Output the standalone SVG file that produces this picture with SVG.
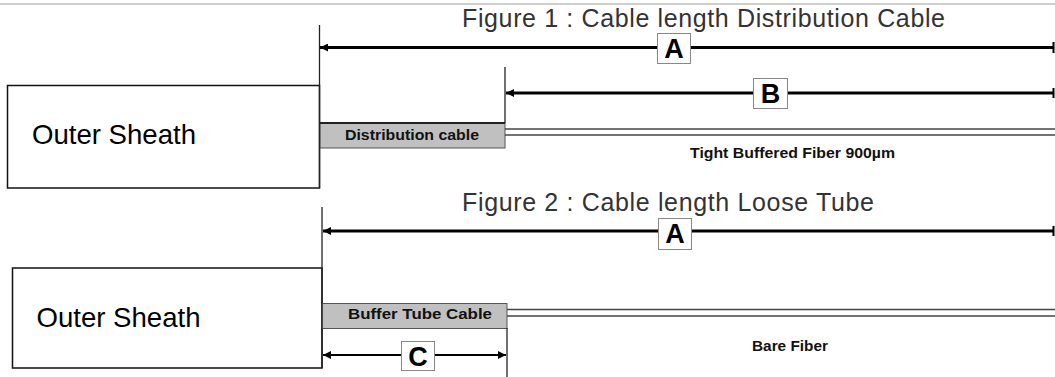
<svg xmlns="http://www.w3.org/2000/svg" width="1055" height="377" viewBox="0 0 1055 377">
<style>
.title{font-family:"Liberation Sans",Arial,sans-serif;font-size:25px;fill:#333}
.sheath{fill:#fff;stroke:#111;stroke-width:1.5}
.sheathtxt{font-family:"Liberation Sans",Arial,sans-serif;font-size:27.5px;fill:#000}
.cable{fill:#c0c0c0;stroke:#555;stroke-width:1}
.lbl{font-family:"Liberation Sans",Arial,sans-serif;font-size:15.5px;font-weight:bold;fill:#111}
.dim{stroke:#000;stroke-width:3;fill:none}
.dimc{stroke:#000;stroke-width:2;fill:none}
.ext{stroke:#222;stroke-width:1.3;fill:none}
.fib{stroke:#444;stroke-width:1.6;fill:none}
.tag{fill:#fff;stroke:#888;stroke-width:1}
.tagtxt{font-family:"Liberation Sans",Arial,sans-serif;font-size:27px;font-weight:bold;fill:#000;text-anchor:middle}
</style>
<defs>
<marker id="ah" viewBox="0 0 10 10" refX="10" refY="5" markerWidth="9" markerHeight="8" markerUnits="userSpaceOnUse" orient="auto-start-reverse">
<path d="M10,5 L0,0 L0,10 Z" fill="#000"/>
</marker>
</defs>
<line x1="0" y1="4" x2="1055" y2="4" stroke="#d0d0d0" stroke-width="2"/>

<text class="title" x="462" y="27" textLength="483" lengthAdjust="spacing">Figure 1 : Cable length Distribution Cable</text>
<text class="title" x="462" y="211" textLength="412" lengthAdjust="spacing">Figure 2 : Cable length Loose Tube</text>

<g id="sheath1">
<rect class="sheath" x="7.5" y="85.5" width="312" height="102.5"/>
<text class="sheathtxt" x="32" y="144" textLength="164" lengthAdjust="spacingAndGlyphs">Outer Sheath</text>
</g>
<g id="distcable">
<rect class="cable" x="320" y="123" width="185" height="25"/>
<line x1="320" y1="123" x2="505" y2="123" stroke="#222" stroke-width="2"/>
<text class="lbl" x="345" y="140" textLength="134" lengthAdjust="spacingAndGlyphs">Distribution cable</text>
</g>
<g id="fiber1">
<line class="fib" x1="505" y1="129" x2="1055" y2="129"/>
<line class="fib" x1="505" y1="135" x2="1055" y2="135" stroke-width="1.2"/>
<text class="lbl" x="690" y="158" textLength="205" lengthAdjust="spacingAndGlyphs">Tight Buffered Fiber 900µm</text>
</g>

<g id="sheath2">
<rect class="sheath" x="12.5" y="268" width="309.5" height="100"/>
<text class="sheathtxt" x="36.5" y="327" textLength="164" lengthAdjust="spacingAndGlyphs">Outer Sheath</text>
</g>
<g id="buffertube">
<rect class="cable" x="322" y="303.5" width="185" height="25"/>
<text class="lbl" x="348" y="319" textLength="144" lengthAdjust="spacingAndGlyphs">Buffer Tube Cable</text>
</g>
<g id="fiber2">
<line class="fib" x1="507" y1="309.5" x2="1055" y2="309.5"/>
<line class="fib" x1="507" y1="316" x2="1055" y2="316" stroke-width="1.2"/>
<text class="lbl" x="752" y="351" textLength="76" lengthAdjust="spacingAndGlyphs">Bare Fiber</text>
</g>

<g id="connectors">
<line class="ext" x1="319.5" y1="25" x2="319.5" y2="188"/>
<line class="ext" x1="505" y1="67" x2="505" y2="123"/>
<line class="ext" x1="322" y1="207" x2="322" y2="368"/>
<line class="ext" x1="507" y1="328" x2="507" y2="377"/>
<line class="dim" x1="320" y1="47.5" x2="1053" y2="47.5" marker-start="url(#ah)"/>
<line x1="1053.5" y1="42" x2="1053.5" y2="53" stroke="#000" stroke-width="2"/>
<line class="dim" x1="506" y1="93" x2="1053" y2="93" marker-start="url(#ah)"/>
<line x1="1053.5" y1="88" x2="1053.5" y2="98" stroke="#000" stroke-width="2"/>
<line class="dim" x1="323" y1="231" x2="1053" y2="231" marker-start="url(#ah)"/>
<line x1="1053.5" y1="226" x2="1053.5" y2="236" stroke="#000" stroke-width="2"/>
<line class="dimc" x1="323" y1="355" x2="506" y2="355" marker-start="url(#ah)" marker-end="url(#ah)"/>
</g>

<g id="tagA1"><rect class="tag" x="657.5" y="33.5" width="33" height="30"/><text class="tagtxt" x="674" y="58">A</text></g>
<g id="tagB"><rect class="tag" x="753.5" y="78.5" width="34" height="30"/><text class="tagtxt" x="770.5" y="103">B</text></g>
<g id="tagA2"><rect class="tag" x="658.5" y="218.5" width="33" height="31"/><text class="tagtxt" x="675" y="243">A</text></g>
<g id="tagC"><rect class="tag" x="401.5" y="341.5" width="33" height="29"/><text class="tagtxt" x="418" y="366">C</text></g>
</svg>
